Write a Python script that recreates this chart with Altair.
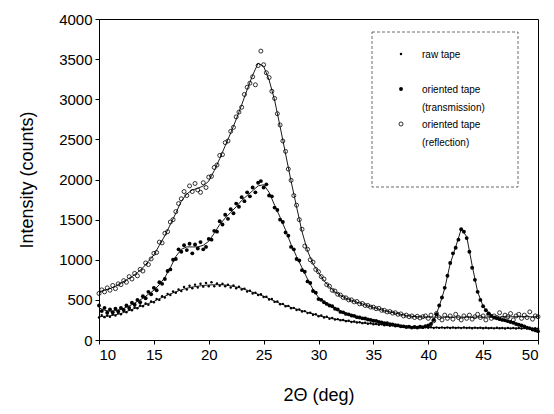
import altair as alt
import numpy as np
import pandas as pd

# measurement grids (degrees 2-theta)
X_PTS = [round(10 + 0.25 * i, 2) for i in range(161)]
X_FIT = [round(10 + 0.5 * i, 2) for i in range(81)]

# ---- smooth fitted curves (0.5 deg steps) ----
REFL_FIT = [600, 620, 640, 670, 710, 750, 790, 840, 900, 980,
            1060, 1180, 1300, 1440, 1580, 1730, 1820, 1870, 1890, 1920,
            1980, 2110, 2260, 2420, 2580, 2750, 2930, 3120, 3300, 3450,
            3410, 3240, 2990, 2660, 2320, 1980, 1660, 1350, 1110, 950,
            840, 740, 660, 600, 555, 520, 495, 470, 450, 425,
            405, 385, 365, 350, 335, 320, 305, 295, 290, 287,
            285, 285, 285, 285, 285, 285, 285, 285, 285, 285,
            285, 285, 286, 287, 288, 289, 290, 290, 290, 290,
            290]
TRANS_FIT = [400, 370, 360, 365, 380, 410, 440, 480, 520, 570,
             620, 690, 780, 900, 1040, 1130, 1160, 1160, 1160, 1180,
             1230, 1330, 1440, 1520, 1590, 1660, 1740, 1800, 1860, 1920,
             1935, 1840, 1680, 1530, 1370, 1190, 1040, 900, 760, 630,
             530, 480, 440, 395, 355, 330, 310, 290, 275, 260,
             245, 230, 215, 200, 190, 175, 165, 160, 160, 165,
             180, 240, 420, 640, 950, 1160, 1380, 1290, 930, 600,
             420, 330, 280, 260, 245, 225, 200, 180, 155, 130,
             110]
RAW_FIT = [290, 295, 300, 315, 330, 355, 380, 405, 430, 455,
           480, 515, 545, 575, 600, 625, 645, 660, 670, 680,
           685, 688, 690, 685, 675, 660, 645, 620, 595, 570,
           545, 515, 485, 455, 430, 405, 385, 365, 345, 325,
           305, 290, 275, 260, 250, 240, 230, 222, 215, 208,
           200, 195, 188, 182, 176, 170, 166, 162, 160, 158,
           156, 156, 155, 155, 154, 154, 153, 153, 152, 152,
           150, 150, 148, 148, 147, 147, 146, 146, 145, 144,
           143]

# ---- measured points (0.25 deg steps) ----
REFL_PTS = [580, 625, 600, 650, 620, 680, 640, 700, 690, 740, 720, 790, 760, 830, 800, 880, 860, 960, 940, 1010,
            1080, 1090, 1220, 1210, 1330, 1350, 1470, 1500, 1600, 1700, 1760, 1850, 1800, 1920, 1850, 1950, 1870, 1840, 1960, 1900,
            2030, 2040, 2150, 2180, 2300, 2310, 2460, 2480, 2600, 2650, 2780, 2840, 2900, 3060, 3150, 3200, 3280, 3180, 3420, 3600,
            3430, 3330, 3270, 3100, 3010, 2820, 2680, 2480, 2350, 2130, 1990, 1800, 1680, 1500, 1380, 1170, 1130, 1000, 970, 880,
            850, 790, 760, 690, 670, 620, 610, 570, 560, 530, 525, 500, 500, 475, 480, 450, 455, 430, 430, 410,
            410, 390, 395, 370, 370, 350, 355, 335, 340, 320, 325, 300, 310, 290, 300, 280, 295, 275, 290, 300,
            270, 310, 240, 330, 280, 250, 310, 270, 300, 260, 320, 280, 250, 300, 270, 310, 260, 290, 320, 280,
            300, 250, 320, 270, 300, 280, 340, 270, 310, 290, 330, 250, 300, 320, 270, 310, 280, 350, 260, 300,
            290]
TRANS_PTS = [430, 360, 400, 340, 380, 345, 390, 355, 400, 375, 430, 400, 465, 440, 500, 470, 545, 520, 600, 570,
             650, 620, 720, 700, 760, 860, 880, 1000, 1010, 1130, 1100, 1180, 1120, 1200, 1080, 1190, 1140, 1220, 1130, 1160,
             1260, 1250, 1360, 1350, 1480, 1440, 1560, 1510, 1630, 1580, 1700, 1660, 1780, 1730, 1840, 1790, 1900, 1840, 1960, 1980,
             1900, 1940, 1800, 1790, 1650, 1620, 1500, 1470, 1340, 1300, 1160, 1130, 1010, 990, 870, 850, 730, 710, 610, 590,
             510, 500, 470, 450, 430, 420, 390, 380, 350, 345, 325, 320, 305, 300, 285, 280, 270, 268, 255, 250,
             240, 238, 225, 220, 210, 208, 198, 195, 185, 182, 172, 170, 162, 165, 155, 162, 155, 165, 160, 172,
             180, 200, 250, 320, 430, 530, 650, 800, 960, 1080, 1150, 1250, 1380, 1350, 1270, 1100, 900, 750, 600, 500,
             420, 370, 330, 300, 280, 270, 260, 250, 245, 235, 225, 215, 200, 190, 180, 170, 155, 145, 130, 120,
             110]
RAW_PTS = [280, 310, 285, 305, 290, 320, 305, 335, 320, 365, 345, 380, 370, 405, 395, 430, 420, 455, 440, 480,
           470, 510, 500, 545, 530, 575, 560, 605, 590, 630, 610, 660, 630, 675, 645, 690, 655, 700, 665, 710,
           670, 720, 670, 705, 675, 700, 670, 690, 655, 680, 645, 665, 630, 640, 605, 615, 580, 590, 560, 570,
           535, 540, 505, 510, 475, 480, 445, 450, 420, 425, 395, 400, 375, 380, 355, 360, 335, 340, 315, 320,
           295, 305, 280, 290, 265, 275, 255, 260, 245, 250, 235, 240, 225, 230, 218, 222, 210, 215, 203, 208,
           196, 200, 190, 195, 184, 188, 178, 182, 172, 176, 166, 170, 162, 166, 158, 162, 156, 160, 154, 158,
           152, 158, 150, 156, 151, 157, 150, 155, 149, 156, 150, 154, 148, 155, 149, 153, 147, 154, 148, 152,
           146, 153, 147, 151, 145, 152, 146, 150, 144, 151, 145, 149, 143, 150, 144, 148, 142, 149, 143, 147,
           141]

LEGEND_LABELS = ["raw tape", "oriented tape", "(transmission)", "oriented tape", "(reflection)"]
X_TICKS = [10, 15, 20, 25, 30, 35, 40, 45, 50]
Y_TICKS = [0, 500, 1000, 1500, 2000, 2500, 3000, 3500, 4000]

FONT = "Liberation Sans"

pts = pd.DataFrame({"x": X_PTS, "raw": RAW_PTS, "trans": TRANS_PTS, "refl": REFL_PTS})
fit = pd.DataFrame({"x": X_FIT, "raw": RAW_FIT, "trans": TRANS_FIT, "refl": REFL_FIT})
fit_long = fit.melt("x", var_name="series", value_name="y")

xscale = alt.Scale(domain=[10, 50], nice=False, zero=False)
yscale = alt.Scale(domain=[0, 4000], nice=False)
xaxis = alt.Axis(values=X_TICKS, title="2Θ (deg)", grid=False, tickSize=4,
                 labelPadding=3, titlePadding=24, format="d")
yaxis = alt.Axis(values=Y_TICKS, title="Intensity (counts)", grid=False, tickSize=4,
                 labelPadding=3, titlePadding=22, format="d")

X = alt.X("x:Q", scale=xscale, axis=xaxis)

lines = alt.Chart(fit_long).mark_line(color="black", strokeWidth=0.9).encode(
    x=X, y=alt.Y("y:Q", scale=yscale, axis=yaxis), detail="series:N")

raw_pts = alt.Chart(pts).mark_circle(size=6, color="black", opacity=1).encode(
    x=X, y=alt.Y("raw:Q", scale=yscale, axis=yaxis))
trans_pts = alt.Chart(pts).mark_circle(size=15, color="black", opacity=1).encode(
    x=X, y=alt.Y("trans:Q", scale=yscale, axis=yaxis))
refl_pts = alt.Chart(pts).mark_point(shape="circle", size=16, filled=False, color="black",
                                     strokeWidth=0.8, opacity=1).encode(
    x=X, y=alt.Y("refl:Q", scale=yscale, axis=yaxis))

# ---- legend (pixel placement inside the plot) ----
box = alt.Chart(pd.DataFrame({"a": [0]})).mark_rect(
    fill="white", stroke="#444444", strokeDash=[3, 2], strokeWidth=0.8).encode(
    x=alt.value(273), x2=alt.value(419), y=alt.value(13), y2=alt.value(168))

leg_text_df = pd.DataFrame({"label": LEGEND_LABELS,
                            "px": [323, 323, 323, 323, 323],
                            "py": [36, 71, 89, 106, 124]})
leg_text = alt.Chart(leg_text_df).mark_text(
    align="left", baseline="middle", font=FONT, fontSize=10, color="black").encode(
    x=alt.X("px:Q", scale=None), y=alt.Y("py:Q", scale=None), text="label:N")

leg_raw = alt.Chart(pd.DataFrame({"a": [0]})).mark_circle(size=6, color="black", opacity=1).encode(
    x=alt.value(302), y=alt.value(35))
leg_trans = alt.Chart(pd.DataFrame({"a": [0]})).mark_circle(size=15, color="black", opacity=1).encode(
    x=alt.value(302), y=alt.value(70))
leg_refl = alt.Chart(pd.DataFrame({"a": [0]})).mark_point(
    shape="circle", size=16, filled=False, color="black", strokeWidth=0.8, opacity=1).encode(
    x=alt.value(302), y=alt.value(105))

chart = alt.layer(lines, raw_pts, trans_pts, refl_pts, box, leg_text, leg_raw, leg_trans, leg_refl).properties(
    width=439, height=321,
    autosize=alt.AutoSizeParams(type="none"),
    padding={"left": 91, "top": 11, "right": 8, "bottom": 70},
    background="white",
).configure_view(stroke="black", strokeWidth=1).configure_axis(
    domainColor="black", tickColor="black", labelColor="black", titleColor="black",
    labelFont=FONT, titleFont=FONT, labelFontSize=15, titleFontSize=18,
    titleFontWeight="normal", labelFontWeight="normal", domainWidth=1, tickWidth=1,
)

chart.save("out.html", embed_options={"renderer": "svg", "actions": False})
